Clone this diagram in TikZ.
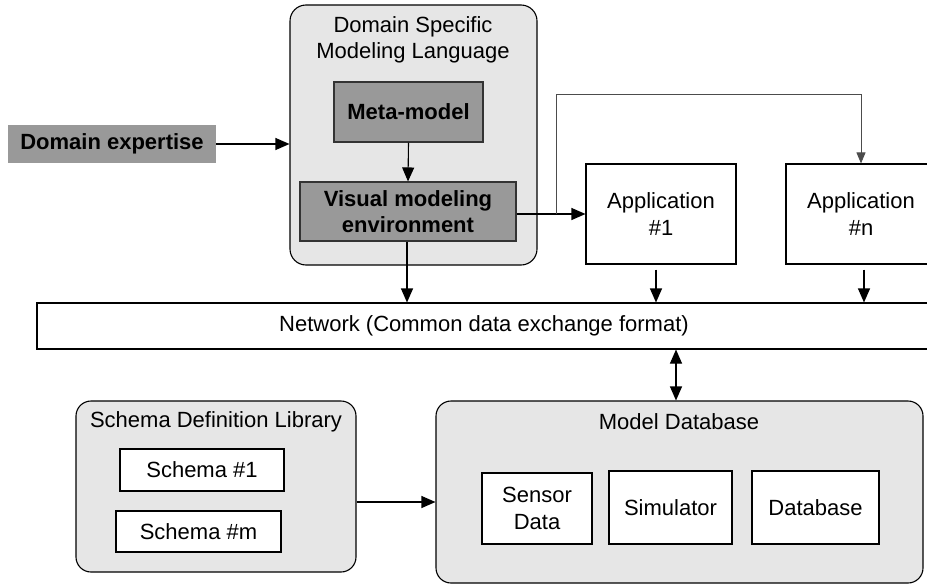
\documentclass[tikz,border=0pt]{standalone}
\usepackage{fontspec}
\setmainfont{Liberation Sans}
\usetikzlibrary{arrows.meta}
\definecolor{lightbg}{HTML}{E6E6E6}
\definecolor{darkfill}{HTML}{999999}
\begin{document}
\begin{tikzpicture}[x=1pt,y=-1pt,
  every node/.style={font=\fontsize{22}{26.5}\selectfont, align=center, inner sep=0pt},
  container/.style={draw=black, fill=lightbg, line width=1.1pt, rounded corners=16pt},
  whitebox/.style={draw=black, fill=white, line width=1.1pt},
  graybox/.style={draw=black!80, fill=darkfill, line width=1.1pt, font=\fontsize{22}{26.5}\selectfont\bfseries},
  conn/.style={line width=1.1pt, -{Triangle[length=14pt,width=12pt]}},
  thinconn/.style={line width=0.8pt, draw=black!70, -{Triangle[length=11pt,width=9pt]}}
]
\useasboundingbox (0,0) rectangle (927,584);

% top row
\node[fill=darkfill, minimum width=208pt, minimum height=38pt, font=\fontsize{22}{26.5}\selectfont\bfseries] (dexp) at (112,144) {Domain expertise};
\node[container, minimum width=247pt, minimum height=260pt] (dsml) at (413.5,135) {};
\node (dsmltitle) at (413,40) {Domain Specific\\Modeling Language};
\node[graybox, minimum width=149pt, minimum height=60pt] (meta) at (408.5,112) {Meta-model};
\node[graybox, minimum width=216pt, minimum height=59pt] (vme) at (408,211.5) {Visual modeling\\environment};
\node[whitebox, minimum width=150pt, minimum height=100pt] (app1) at (661,214) {Application\\\#1};
\node[whitebox, minimum width=150pt, minimum height=100pt] (appn) at (861,214) {Application\\\#n};

% network
\node[whitebox, minimum width=894pt, minimum height=46pt] (net) at (484,326) {Network (Common data exchange format)};

% bottom
\node[container, rounded corners=15pt, minimum width=280pt, minimum height=171pt] (sdl) at (216,486.5) {};
\node (sdltitle) at (216,422) {Schema Definition Library};
\node[whitebox, minimum width=164pt, minimum height=42pt] (s1) at (202,470) {Schema \#1};
\node[whitebox, minimum width=165pt, minimum height=41pt] (sm) at (198.5,531.5) {Schema \#m};

\node[container, rounded corners=15pt, minimum width=487pt, minimum height=182pt] (mdb) at (679.5,492) {};
\node (mdbtitle) at (679,422) {Model Database};
\node[whitebox, minimum width=110pt, minimum height=71pt] (sensor) at (537,508.5) {Sensor\\Data};
\node[whitebox, minimum width=123pt, minimum height=73pt] (sim) at (670.5,507.5) {Simulator};
\node[whitebox, minimum width=127pt, minimum height=73pt] (db) at (815.5,507.5) {Database};

% connectors
\draw[conn] (dexp.east) -- (dexp.east -| dsml.west);
\draw[conn] (meta.south) -- (vme.north);
\draw[conn] ([xshift=-1pt]vme.south) -- ([xshift=-1pt]vme.south |- net.north);
\draw[conn] (app1.west -| vme.east) -- (app1.west);
\coordinate (br) at (556,214);
\coordinate (brtop) at (556,94);
\draw[thinconn] (br) -- (brtop) -| (appn.north);
\draw[conn] ([xshift=-5pt]app1.south) ++(0,-5pt) -- ([xshift=-5pt]app1.south |- net.north);
\draw[conn] ([xshift=3pt]appn.south) ++(0,-5pt) -- ([xshift=3pt]appn.south |- net.north);
\draw[line width=1.1pt, {Triangle[length=14pt,width=12pt]}-{Triangle[length=14pt,width=12pt]}] ([xshift=-3.5pt]mdb.north |- net.south) -- ([xshift=-3.5pt]mdb.north);
\draw[conn] ([yshift=-15.5pt]sdl.east) -- ([yshift=-15.5pt]sdl.east -| mdb.west);
\end{tikzpicture}
\end{document}
